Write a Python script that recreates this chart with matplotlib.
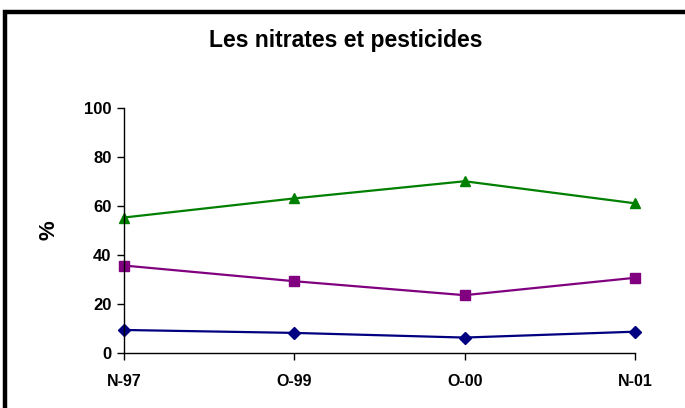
import matplotlib
matplotlib.use("Agg")
import matplotlib.pyplot as plt
from matplotlib.lines import Line2D

plt.rcParams['font.family'] = ['Liberation Sans', 'DejaVu Sans']

# data
dates = ["N-97", "O-99", "O-00", "N-01"]
serie_vert = [55.3, 63.1, 70.1, 61.1]
serie_violet = [35.7, 29.3, 23.6, 30.7]
serie_bleu = [9.4, 8.2, 6.3, 8.7]
yticks = [0, 20, 40, 60, 80, 100]

fig = plt.figure(figsize=(6.85, 4.08), dpi=100)
ax = fig.add_axes([124 / 685, 1 - 353 / 408, (635 - 124) / 685, (353 - 108) / 408])

x = range(len(dates))
ax.plot(x, serie_vert, color='#008000', lw=1.6, marker='^', ms=7.5, clip_on=False)
ax.plot(x, serie_violet, color='#800080', lw=1.6, marker='s', ms=6.8, clip_on=False)
ax.plot(x, serie_bleu, color='#000080', lw=1.6, marker='D', ms=6.5, clip_on=False)

ax.set_xlim(0, len(dates) - 1)
ax.set_ylim(0, 100)
ax.set_xticks(list(x))
ax.set_xticklabels(dates, fontsize=11.5, fontweight='bold')
ax.set_yticks(yticks)
ax.set_yticklabels([str(v) for v in yticks], fontsize=12, fontweight='bold')
ax.tick_params(axis='x', length=5, width=1, pad=10, colors='black')
ax.tick_params(axis='y', length=5, width=1, pad=4, colors='black')
for s in ['top', 'right']:
    ax.spines[s].set_visible(False)
for s in ['left', 'bottom']:
    ax.spines[s].set_linewidth(1)
ax.set_ylabel('%', fontsize=16, fontweight='bold', labelpad=18)

fig.text(346 / 685, 1 - 40 / 408, 'Les nitrates et pesticides', ha='center', va='center',
         fontsize=16.5, fontweight='bold')

# chart border (only top and left visible in the crop)
fig.add_artist(Line2D([5 / 685, 5 / 685, 1.0], [0.0, 1 - 12 / 408, 1 - 12 / 408],
                      transform=fig.transFigure, color='black', lw=3.2,
                      solid_joinstyle='miter'))

fig.savefig('out.png', dpi=100)
